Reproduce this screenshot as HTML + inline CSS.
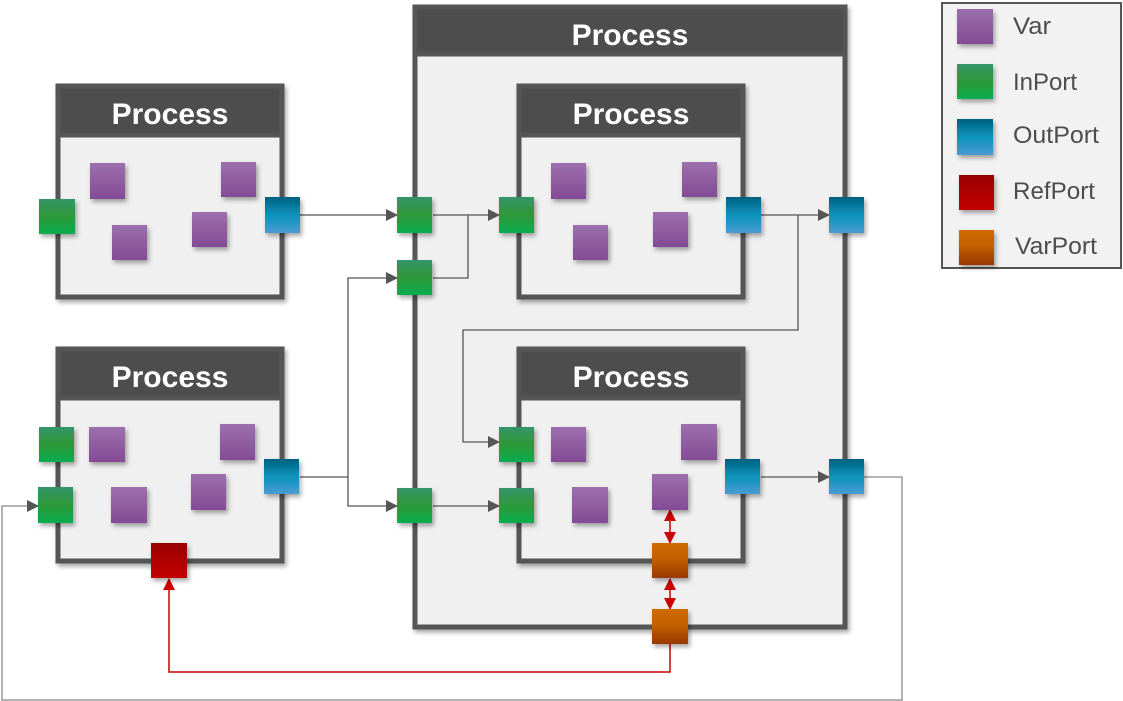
<!DOCTYPE html>
<html><head><meta charset="utf-8"><style>
html,body{margin:0;padding:0;background:#fff;}
svg{display:block;}
text{font-family:"Liberation Sans",sans-serif;}
</style></head><body>
<svg width="1123" height="701" viewBox="0 0 1123 701" xmlns="http://www.w3.org/2000/svg">
<defs>
<linearGradient id="gv" x1="0" y1="0" x2="0" y2="1"><stop offset="0" stop-color="#9d6fad"/><stop offset="1" stop-color="#834b95"/></linearGradient>
<linearGradient id="gi" x1="0" y1="0" x2="0" y2="1"><stop offset="0" stop-color="#35946a"/><stop offset="0.5" stop-color="#2e9838"/><stop offset="1" stop-color="#08ad4f"/></linearGradient>
<linearGradient id="go" x1="0" y1="0" x2="0" y2="1"><stop offset="0" stop-color="#03607f"/><stop offset="0.5" stop-color="#0a93bc"/><stop offset="1" stop-color="#4a9bd3"/></linearGradient>
<linearGradient id="gr" x1="0" y1="0" x2="0" y2="1"><stop offset="0" stop-color="#9a0000"/><stop offset="1" stop-color="#c40000"/></linearGradient>
<linearGradient id="gp" x1="0" y1="0" x2="0" y2="1"><stop offset="0" stop-color="#cf6900"/><stop offset="0.45" stop-color="#c46000"/><stop offset="1" stop-color="#993700"/></linearGradient>
<filter id="sh" x="-30%" y="-30%" width="170%" height="170%"><feDropShadow dx="2" dy="3" stdDeviation="2.5" flood-color="#000" flood-opacity="0.35"/></filter>
<marker id="ag" markerWidth="12" markerHeight="12" refX="11" refY="6" orient="auto" markerUnits="userSpaceOnUse"><path d="M0,0 L12,6 L0,12 z" fill="#555"/></marker>
<marker id="ar" markerWidth="12" markerHeight="12" refX="11" refY="6" orient="auto" markerUnits="userSpaceOnUse"><path d="M0,0 L12,6 L0,12 z" fill="#cc0000"/></marker>
</defs>

<g filter="url(#sh)">
<rect x="415" y="7" width="430" height="620" fill="#f0f0f0" stroke="#555" stroke-width="5"/>
</g>
<rect x="415" y="7" width="430" height="47" fill="#4d4d4d" stroke="#555" stroke-width="5"/>
<text x="630" y="45" font-size="30" font-weight="bold" fill="#fff" text-anchor="middle">Process</text>

<g filter="url(#sh)">
<rect x="58" y="86" width="224" height="211" fill="#f0f0f0" stroke="#555" stroke-width="5"/>
<rect x="58" y="349" width="224" height="212" fill="#f0f0f0" stroke="#555" stroke-width="5"/>
<rect x="519" y="86" width="224" height="211" fill="#f0f0f0" stroke="#555" stroke-width="5"/>
<rect x="519" y="349" width="224" height="212" fill="#f0f0f0" stroke="#555" stroke-width="5"/>
</g>
<rect x="58" y="86" width="224" height="49" fill="#4d4d4d" stroke="#555" stroke-width="5"/>
<rect x="58" y="349" width="224" height="49" fill="#4d4d4d" stroke="#555" stroke-width="5"/>
<rect x="519" y="86" width="224" height="49" fill="#4d4d4d" stroke="#555" stroke-width="5"/>
<rect x="519" y="349" width="224" height="49" fill="#4d4d4d" stroke="#555" stroke-width="5"/>
<g font-size="30" font-weight="bold" fill="#fff" text-anchor="middle">
<text x="170" y="124">Process</text>
<text x="170" y="387">Process</text>
<text x="631" y="124">Process</text>
<text x="631" y="387">Process</text>
</g>

<g fill="none" stroke="#555" stroke-width="1.3">
<path d="M300,215 H397" marker-end="url(#ag)"/>
<path d="M433,215 H499" marker-end="url(#ag)"/>
<path d="M468,215 V278 H433"/>
<path d="M300,477 H348 V278 H397" marker-end="url(#ag)"/>
<path d="M348,477 V506 H397" marker-end="url(#ag)"/>
<path d="M433,506 H499" marker-end="url(#ag)"/>
<path d="M761,215 H829" marker-end="url(#ag)"/>
<path d="M798,215 V330 H463 V442 H499" marker-end="url(#ag)"/>
<path d="M761,477 H829" marker-end="url(#ag)"/>
<path d="M864,477 H902 V700 H2 V506 H38" stroke="#888" marker-end="url(#ag)"/>
</g>
<g fill="none" stroke="#cc0000" stroke-width="1.5">
<path d="M670,644 V672 H169 V579" marker-end="url(#ar)"/>
<path d="M670,525 V510" marker-end="url(#ar)"/>
<path d="M670,525 V543" marker-end="url(#ar)"/>
<path d="M670,592 V579" marker-end="url(#ar)"/>
<path d="M670,592 V609" marker-end="url(#ar)"/>
</g>

<g filter="url(#sh)">
<g fill="url(#gv)">
<rect x="90" y="163" width="35" height="36"/><rect x="112" y="225" width="35" height="35"/><rect x="221" y="162" width="35" height="35"/><rect x="192" y="212" width="35" height="35"/>
<rect x="89" y="427" width="36" height="35"/><rect x="111" y="487" width="36" height="36"/><rect x="220" y="424" width="35" height="36"/><rect x="191" y="474" width="35" height="36"/>
<rect x="551" y="163" width="35" height="36"/><rect x="573" y="225" width="35" height="35"/><rect x="682" y="162" width="35" height="35"/><rect x="653" y="212" width="35" height="35"/>
<rect x="551" y="427" width="35" height="35"/><rect x="572" y="487" width="36" height="36"/><rect x="681" y="424" width="36" height="36"/><rect x="652" y="474" width="36" height="36"/>
</g>
<g fill="url(#gi)">
<rect x="39" y="199" width="36" height="35"/>
<rect x="39" y="427" width="35" height="35"/><rect x="38" y="487" width="35" height="36"/>
<rect x="397" y="197" width="35" height="36"/><rect x="397" y="260" width="35" height="35"/><rect x="397" y="488" width="35" height="35"/>
<rect x="499" y="197" width="35" height="36"/><rect x="499" y="427" width="35" height="35"/><rect x="499" y="488" width="35" height="35"/>
</g>
<g fill="url(#go)">
<rect x="265" y="197" width="35" height="36"/><rect x="264" y="459" width="35" height="35"/>
<rect x="726" y="197" width="35" height="36"/><rect x="725" y="459" width="35" height="35"/>
<rect x="829" y="197" width="35" height="36"/><rect x="829" y="459" width="35" height="35"/>
</g>
<rect x="151" y="543" width="36" height="35" fill="url(#gr)"/>
<rect x="652" y="543" width="36" height="35" fill="url(#gp)"/>
<rect x="652" y="609" width="36" height="35" fill="url(#gp)"/>
</g>

<rect x="942" y="3" width="179" height="265" fill="#f2f2f2" stroke="#555" stroke-width="2"/>
<g filter="url(#sh)">
<rect x="957" y="9" width="36" height="35" fill="url(#gv)"/>
<rect x="957" y="64" width="36" height="35" fill="url(#gi)"/>
<rect x="957" y="119" width="36" height="36" fill="url(#go)"/>
<rect x="959" y="175" width="35" height="35" fill="url(#gr)"/>
<rect x="959" y="230" width="35" height="35" fill="url(#gp)"/>
</g>
<g font-size="24" fill="#4d4d4d">
<text x="1013" y="34" textLength="38" lengthAdjust="spacingAndGlyphs">Var</text>
<text x="1013" y="90" textLength="64" lengthAdjust="spacingAndGlyphs">InPort</text>
<text x="1013" y="143" textLength="86" lengthAdjust="spacingAndGlyphs">OutPort</text>
<text x="1013" y="199" textLength="82" lengthAdjust="spacingAndGlyphs">RefPort</text>
<text x="1015" y="254" textLength="82" lengthAdjust="spacingAndGlyphs">VarPort</text>
</g>
</svg>
</body></html>
